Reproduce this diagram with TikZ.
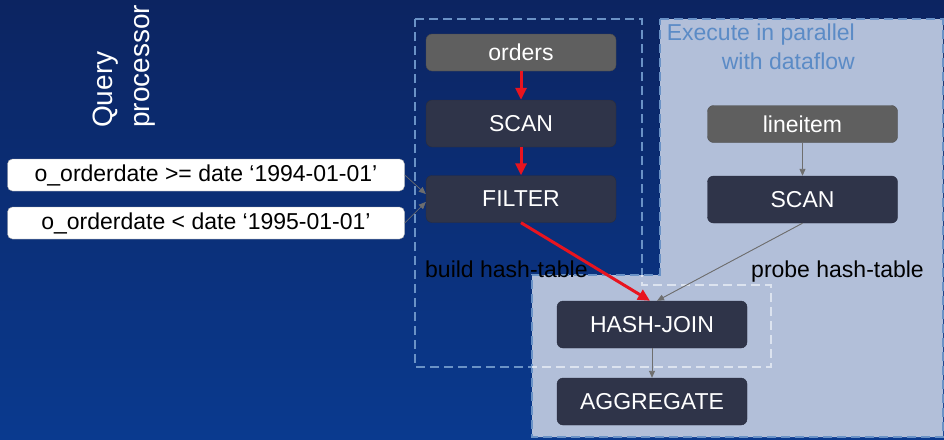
\documentclass[tikz,border=0pt]{standalone}
\usepackage{fontspec}
\setmainfont{Liberation Sans}
\usepackage{tikz}
\usetikzlibrary{arrows.meta}
\definecolor{bgtop}{HTML}{0C2461}
\definecolor{bgbot}{HTML}{0A3A8F}
\definecolor{paneblue}{HTML}{B2BFD9}
\definecolor{dashblue}{HTML}{6A92C6}
\definecolor{dashpale}{HTML}{DCE3EF}
\definecolor{textblue}{HTML}{5B8BC6}
\definecolor{opdark}{HTML}{2F3449}
\definecolor{tablegray}{HTML}{5F5F5F}
\definecolor{flowred}{HTML}{E8141F}
\definecolor{flowgray}{HTML}{6E6E6E}
\newcommand{\probepane}{(660,19) -- (943,19) -- (943,437) -- (532,437) -- (532,275) -- (660,275) -- cycle}
\newcommand{\buildpane}{(415,19) -- (642,19) -- (642,285) -- (771,285) -- (771,367) -- (415,367) -- cycle}
\tikzset{
	op/.style={draw=opdark!85!black, fill=opdark, rounded corners=6pt, inner sep=2pt,
		minimum width=190pt, minimum height=47pt, text=white, font=\fontsize{23}{27}\selectfont},
	tbl/.style={op, draw=tablegray!80!black, fill=tablegray, minimum height=37pt},
	pred/.style={draw=gray!70, fill=white, rounded corners=5pt, inner sep=2pt,
		minimum width=397pt, minimum height=32pt, font=\fontsize{23}{27}\selectfont},
	redflow/.style={-{Triangle[length=12pt,width=11pt]}, draw=flowred, fill=flowred, line width=3pt},
	grayflow/.style={-{Triangle[length=7pt,width=6pt]}, draw=flowgray, fill=flowgray, line width=0.9pt},
	pane/.style={dash pattern=on 9pt off 5pt, line width=2.8pt},
	note/.style={inner sep=0pt, font=\fontsize{23}{29}\selectfont},
}

\begin{document}
\begin{tikzpicture}[x=1pt, y=-1pt]
% the background
\shade[top color=bgtop, bottom color=bgbot] (0,0) rectangle (944,439);
\useasboundingbox (0,0) rectangle (944,439);

% the panes
\draw[pane, draw=dashblue, fill=paneblue] \probepane;
\draw[pane, draw=dashblue] \buildpane;
\begin{scope}
\clip \probepane;
\draw[pane, draw=dashpale] \buildpane;
\end{scope}

% the labels
\node[note, rotate=90, anchor=north west, align=left, text=white,
	font=\fontsize{28}{37}\selectfont] at (93,128) (qp) {Query\\processor};
\node[note, anchor=north east, align=right, text=textblue] at (855,24) (par) {Execute in parallel\\with dataflow};
\node[note, anchor=base west] at (425,277) (build) {build hash-table};
\node[note, anchor=base west] at (751,277) (probe) {probe hash-table};

% the predicates
\node[pred] at (206,175) (p1) {o\_orderdate >= date ‘1994-01-01’};
\node[pred] at (206,223) (p2) {o\_orderdate < date ‘1995-01-01’};

% the operators
\node[tbl] at (521,52.5) (orders) {orders};
\node[op] at (521,123.5) (scanl) {SCAN};
\node[op] at (521,199) (filter) {FILTER};
\node[tbl] at (802.5,124) (lineitem) {lineitem};
\node[op] at (802.5,199.5) (scanr) {SCAN};
\node[op] at (652,324.5) (join) {HASH-JOIN};
\node[op] at (652,401.5) (agg) {AGGREGATE};

% the arrows
\draw[redflow] (orders) -- (scanl);
\draw[redflow] (scanl) -- (filter);
\draw[redflow] (filter.south) -- ([xshift=-2pt]join.north);
\draw[grayflow] (lineitem) -- (scanr);
\draw[grayflow] (scanr.south) -- ([xshift=5pt]join.north);
\draw[grayflow] (join) -- (agg);
\draw[grayflow, line width=0.6pt] (p1.east) -- ([yshift=5pt]filter.west);
\draw[grayflow, line width=0.6pt] (p2.east) -- ([yshift=-3pt]filter.west);

\end{tikzpicture}
\end{document}
